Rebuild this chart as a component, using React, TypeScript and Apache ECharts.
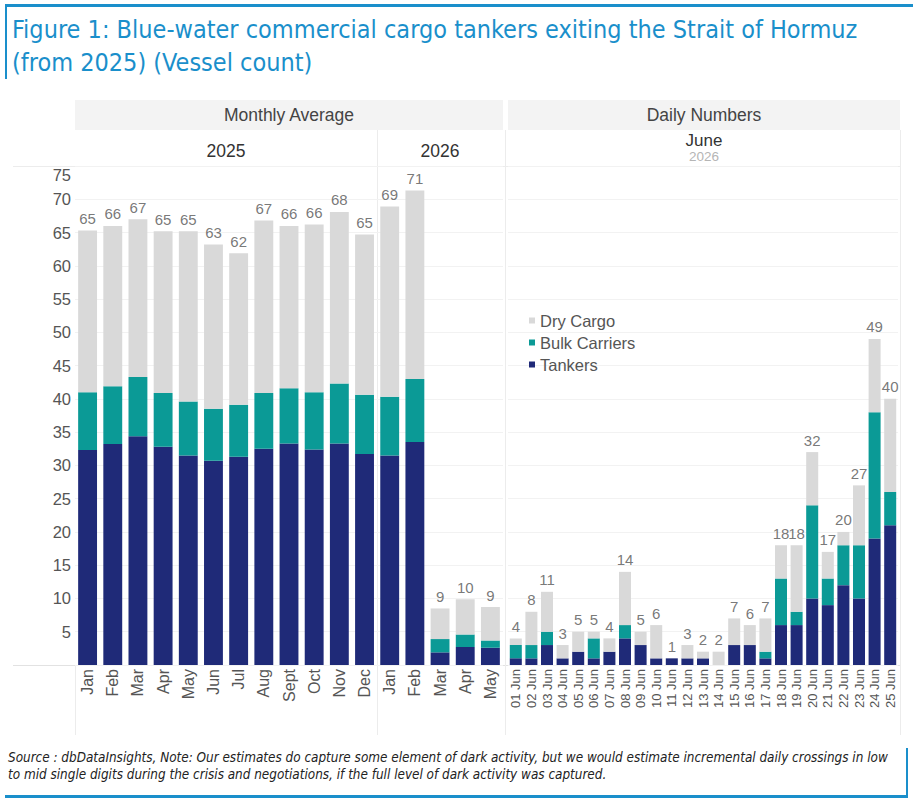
import React, { useEffect, useRef } from "react";
import * as echarts from "echarts";

// ---- Data ----
const monthCats = ["Jan", "Feb", "Mar", "Apr", "May", "Jun", "Jul", "Aug", "Sept", "Oct", "Nov", "Dec", "Jan", "Feb", "Mar", "Apr", "May"];
const tankersM = [32.3, 33.2, 34.4, 32.8, 31.5, 30.7, 31.3, 32.5, 33.3, 32.4, 33.3, 31.7, 31.5, 33.5, 1.9, 2.7, 2.6];
const bulkM = [8.7, 8.7, 8.9, 8.1, 8.1, 7.8, 7.8, 8.4, 8.3, 8.6, 9.0, 8.9, 8.8, 9.5, 2.0, 1.9, 1.1];
const dryM = [24.3, 24.1, 23.7, 24.3, 25.6, 24.7, 22.8, 25.9, 24.4, 25.2, 25.8, 24.1, 28.6, 28.3, 4.6, 5.3, 5.0];
const totalLabelsM = [65, 66, 67, 65, 65, 63, 62, 67, 66, 66, 68, 65, 69, 71, 9, 10, 9];

const dayCats = ["01 Jun", "02 Jun", "03 Jun", "04 Jun", "05 Jun", "06 Jun", "07 Jun", "08 Jun", "09 Jun", "10 Jun", "11 Jun", "12 Jun", "13 Jun", "14 Jun", "15 Jun", "16 Jun", "17 Jun", "18 Jun", "19 Jun", "20 Jun", "21 Jun", "22 Jun", "23 Jun", "24 Jun", "25 Jun"];
const tankersD = [1, 1, 3, 1, 2, 1, 2, 4, 3, 1, 1, 1, 1, 0, 3, 3, 1, 6, 6, 10, 9, 12, 10, 19, 21];
const bulkD = [2, 2, 2, 0, 0, 3, 0, 2, 0, 0, 0, 0, 0, 0, 0, 0, 1, 7, 2, 14, 4, 6, 8, 19, 5];
const dryD = [1, 5, 6, 2, 3, 1, 2, 8, 2, 5, 0, 2, 1, 2, 4, 3, 5, 5, 10, 8, 4, 2, 9, 11, 14];
const totalLabelsD = [4, 8, 11, 3, 5, 5, 4, 14, 5, 6, 1, 3, 2, 2, 7, 6, 7, 18, 18, 32, 17, 20, 27, 49, 40];

const seriesNames = ["Dry Cargo", "Bulk Carriers", "Tankers"];

const C_NAVY = "#1f2a78";
const C_TEAL = "#0b9a96";
const C_GRAY = "#d9d9d9";
const TITLE_BLUE = "#1a8fcb";
const FONT = "'Liberation Sans', Arial, sans-serif";
const NARROW = "'Liberation Sans Narrow', 'DejaVu Sans Condensed', 'Roboto Condensed', sans-serif";

export default function App() {
  const ref = useRef<HTMLDivElement>(null);

  useEffect(() => {
    document.body.style.margin = "0";
    if (!ref.current) return;
    const chart = echarts.init(ref.current, undefined, { renderer: "svg" });

    const G_TOP = 166;
    const G_H = 499;
    const BASE = G_TOP + G_H;
    const sepColor = "#ececec";

    const yAxisCommon = {
      type: "value",
      min: 0,
      max: 75,
      interval: 5,
      splitLine: { show: true, lineStyle: { color: "#f2f2f2", width: 1 } },
      axisLine: { show: false },
      axisTick: { show: false },
    };

    const barSeries = (gi: number, name: string, data: number[], color: string, width: string) => ({
      name,
      type: "bar",
      xAxisIndex: gi,
      yAxisIndex: gi,
      stack: "s" + gi,
      barWidth: width,
      itemStyle: { color },
      data,
    });

    const totalSeries = (gi: number, totals: number[], heights: number[][]) => ({
      name: "total" + gi,
      type: "scatter",
      xAxisIndex: gi,
      yAxisIndex: gi,
      symbol: "rect",
      symbolSize: 1,
      itemStyle: { color: "rgba(0,0,0,0)" },
      silent: true,
      data: heights[0].map((_, i) => heights[0][i] + heights[1][i] + heights[2][i]),
      label: {
        show: true,
        position: "top",
        distance: 4,
        color: "#555",
        fontSize: 15,
        fontFamily: FONT,
        formatter: (p: any) => String(totals[p.dataIndex]),
      },
    });

    const hdr = (text: string, x: number, y: number, size: number, fill: string) => ({
      type: "text",
      x,
      y,
      style: { text, fill, fontSize: size, fontFamily: FONT, align: "center", verticalAlign: "middle" },
      silent: true,
    });

    const option: any = {
      animation: false,
      textStyle: { fontFamily: FONT },
      legend: {
        data: seriesNames,
        orient: "vertical",
        left: 524,
        top: 307,
        icon: "rect",
        itemWidth: 6,
        itemHeight: 6,
        itemGap: 5,
        selectedMode: false,
        textStyle: { fontSize: 16.5, color: "#555", fontFamily: FONT, lineHeight: 16 },
      },
      grid: [
        { left: 75, top: G_TOP, width: 428, height: G_H },
        { left: 508, top: G_TOP, width: 390, height: G_H },
      ],
      xAxis: [
        {
          type: "category",
          gridIndex: 0,
          data: monthCats,
          axisLine: { show: false },
          axisTick: { show: false },
          axisLabel: { rotate: 90, fontSize: 16, color: "#555", margin: 4, interval: 0 },
        },
        {
          type: "category",
          gridIndex: 1,
          data: dayCats,
          axisLine: { show: false },
          axisTick: { show: false },
          axisLabel: { rotate: 90, fontSize: 13, color: "#555", margin: 4, interval: 0 },
        },
      ],
      yAxis: [
        {
          ...yAxisCommon,
          gridIndex: 0,
          axisLabel: {
            show: true,
            fontSize: 16.5,
            color: "#555",
            margin: 4,
            verticalAlignMaxLabel: "top",
            formatter: (v: number) => (v === 0 ? "" : String(v)),
          },
        },
        { ...yAxisCommon, gridIndex: 1, axisLabel: { show: false } },
      ],
      series: [
        barSeries(0, "Tankers", tankersM, C_NAVY, "75%"),
        barSeries(0, "Bulk Carriers", bulkM, C_TEAL, "75%"),
        barSeries(0, "Dry Cargo", dryM, C_GRAY, "75%"),
        totalSeries(0, totalLabelsM, [tankersM, bulkM, dryM]),
        barSeries(1, "Tankers", tankersD, C_NAVY, "77%"),
        barSeries(1, "Bulk Carriers", bulkD, C_TEAL, "77%"),
        barSeries(1, "Dry Cargo", dryD, C_GRAY, "77%"),
        totalSeries(1, totalLabelsD, [tankersD, bulkD, dryD]),
      ],
      graphic: [
        // title frame
        { type: "rect", shape: { x: 5, y: 4, width: 908, height: 3 }, style: { fill: TITLE_BLUE }, silent: true },
        { type: "rect", shape: { x: 5, y: 4, width: 2, height: 75 }, style: { fill: TITLE_BLUE }, silent: true },
        {
          type: "text", x: 12, y: 17,
          style: { text: "Figure 1: Blue-water commercial cargo tankers exiting the Strait of Hormuz", fill: TITLE_BLUE, fontSize: 25, fontFamily: NARROW },
          silent: true,
        },
        {
          type: "text", x: 12, y: 50,
          style: { text: "(from 2025) (Vessel count)", fill: TITLE_BLUE, fontSize: 25, fontFamily: NARROW },
          silent: true,
        },
        // header bands
        { type: "rect", shape: { x: 75, y: 100, width: 428, height: 30 }, style: { fill: "#f3f3f3" }, silent: true },
        { type: "rect", shape: { x: 508, y: 100, width: 392, height: 30 }, style: { fill: "#f3f3f3" }, silent: true },
        hdr("Monthly Average", 289, 115, 17.5, "#444"),
        hdr("Daily Numbers", 704, 115, 17.5, "#444"),
        hdr("2025", 226, 151, 17.5, "#333"),
        hdr("2026", 440, 151, 17.5, "#333"),
        hdr("June", 704, 140, 17, "#333"),
        hdr("2026", 704, 156.5, 13.5, "#b5b5b5"),
        // separators
        { type: "line", shape: { x1: 13, y1: G_TOP + 0.5, x2: 900, y2: G_TOP + 0.5 }, style: { stroke: "#ececec", lineWidth: 1 }, silent: true },
        { type: "line", shape: { x1: 13, y1: BASE + 0.5, x2: 900, y2: BASE + 0.5 }, style: { stroke: "#e2e2e2", lineWidth: 1 }, silent: true },
        { type: "line", shape: { x1: 75.5, y1: BASE, x2: 75.5, y2: 735 }, style: { stroke: sepColor, lineWidth: 1 }, silent: true },
        { type: "line", shape: { x1: 377.5, y1: 130, x2: 377.5, y2: 735 }, style: { stroke: sepColor, lineWidth: 1 }, silent: true },
        { type: "line", shape: { x1: 505.5, y1: 130, x2: 505.5, y2: 735 }, style: { stroke: sepColor, lineWidth: 1 }, silent: true },
        { type: "line", shape: { x1: 900.5, y1: 130, x2: 900.5, y2: 735 }, style: { stroke: sepColor, lineWidth: 1 }, silent: true },
        // footer
        {
          type: "text", x: 8, y: 749,
          style: {
            text: "Source : dbDataInsights, Note: Our estimates do capture some element of dark activity, but we would estimate incremental daily crossings in low\nto mid single digits during the crisis and negotiations, if the full level of dark activity was captured.",
            fill: "#222", fontSize: 13.4, fontStyle: "italic", fontFamily: NARROW, lineHeight: 17,
          },
          silent: true,
        },
        { type: "rect", shape: { x: 906, y: 748, width: 2, height: 50 }, style: { fill: TITLE_BLUE }, silent: true },
        { type: "rect", shape: { x: 5, y: 795, width: 903, height: 3 }, style: { fill: TITLE_BLUE }, silent: true },
      ],
    };

    chart.setOption(option);
    return () => chart.dispose();
  }, []);

  return <div ref={ref} style={{ width: 913, height: 805 }} />;
}
